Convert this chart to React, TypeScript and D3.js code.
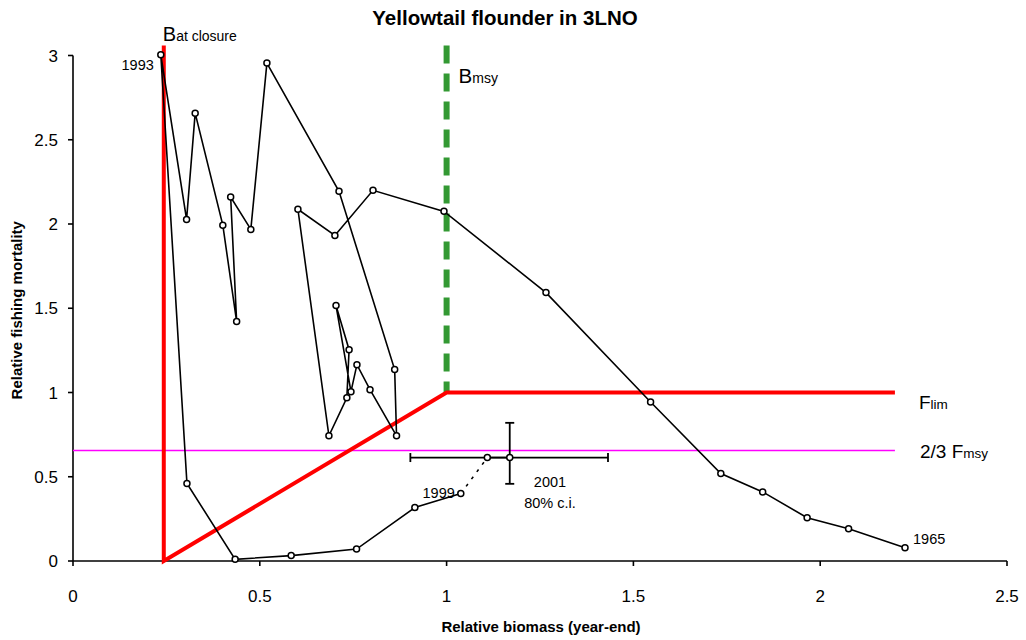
import React from "react";
import * as d3 from "d3";

// Stock trajectory, chronological 1965 -> 1999 (relative biomass, relative F)
const years: number[] = d3.range(1965, 2000);
const biomass: number[] = [
  2.227, 2.076, 1.965, 1.846, 1.734, 1.546, 1.266, 0.993, 0.803, 0.701,
  0.602, 0.685, 0.733, 0.739, 0.704, 0.744, 0.760, 0.795, 0.866, 0.861,
  0.712, 0.519, 0.476, 0.422, 0.438, 0.401, 0.327, 0.304, 0.235, 0.305,
  0.434, 0.584, 0.759, 0.915, 1.038,
];
const fishing: number[] = [
  0.079, 0.192, 0.257, 0.410, 0.519, 0.944, 1.593, 2.075, 2.200, 1.932,
  2.087, 0.743, 0.969, 1.254, 1.516, 1.005, 1.165, 1.017, 0.743, 1.136,
  2.194, 2.955, 1.968, 2.160, 1.421, 1.993, 2.658, 2.027, 3.004, 0.460,
  0.010, 0.032, 0.071, 0.317, 0.400,
];
// Projection 2000 -> 2001
const projB: number[] = [1.038, 1.109, 1.169];
const projF: number[] = [0.400, 0.614, 0.614];
// 2001 80% confidence interval
const ciB: number[] = [0.903, 1.432];
const ciF: number[] = [0.458, 0.820];

// Reference points
const bClosure = 0.243;
const bMsy = 1.0;
const fLim = 1.0;
const fTwoThirds = 0.656;
const refTop = 3.06;
const refRight = 2.2;

const xTicks: number[] = [0, 0.5, 1, 1.5, 2, 2.5];
const yTicks: number[] = [0, 0.5, 1, 1.5, 2, 2.5, 3];

const FONT = "'Liberation Sans', Arial, sans-serif";

export default function App() {
  const W = 1026;
  const H = 640;
  const x = d3.scaleLinear().domain([0, 2.5]).range([73, 1007]);
  const y = d3.scaleLinear().domain([0, 3]).range([561, 55.5]);

  const pts: [number, number][] = biomass.map((b, i) => [b, fishing[i]]);
  const line = d3
    .line<[number, number]>()
    .x((d) => x(d[0]))
    .y((d) => y(d[1]));

  const projPts: [number, number][] = projB.map((b, i) => [b, projF[i]]);
  const idx1993 = years.indexOf(1993);
  const idx1965 = years.indexOf(1965);
  const idx1999 = years.indexOf(1999);

  const cap = 4.5;

  return (
    <svg
      width={W}
      height={H}
      style={{ position: "absolute", left: 0, top: 0, background: "#fff" }}
      fontFamily={FONT}
    >
      <rect x={0} y={0} width={W} height={H} fill="#fff" />
      {/* Title */}
      <text x={505} y={25} textAnchor="middle" fontSize={20.5} fontWeight="bold">
        Yellowtail flounder in 3LNO
      </text>

      {/* Axes */}
      <line x1={x(0)} x2={x(0)} y1={y(3)} y2={y(0)} stroke="#000" strokeWidth={1.6} />
      <line x1={x(0)} x2={x(2.5)} y1={y(0)} y2={y(0)} stroke="#000" strokeWidth={1.6} />
      {yTicks.map((t) => (
        <g key={"yt" + t}>
          <line x1={x(0) - 5} x2={x(0)} y1={y(t)} y2={y(t)} stroke="#000" strokeWidth={1.6} />
          <text x={x(0) - 15} y={y(t) + 6} textAnchor="end" fontSize={17}>
            {t}
          </text>
        </g>
      ))}
      {xTicks.map((t) => (
        <g key={"xt" + t}>
          <line x1={x(t)} x2={x(t)} y1={y(0)} y2={y(0) + 5} stroke="#000" strokeWidth={1.6} />
          <text x={x(t)} y={602} textAnchor="middle" fontSize={17}>
            {t}
          </text>
        </g>
      ))}
      <text x={541} y={632} textAnchor="middle" fontSize={15} fontWeight="bold">
        Relative biomass (year-end)
      </text>
      <text
        transform={`translate(22,${y(1.5) + 2}) rotate(-90)`}
        textAnchor="middle"
        fontSize={15}
        fontWeight="bold"
      >
        Relative fishing mortality
      </text>

      {/* 2/3 Fmsy line */}
      <line
        x1={x(0)}
        x2={x(refRight)}
        y1={y(fTwoThirds)}
        y2={y(fTwoThirds)}
        stroke="#ff00ff"
        strokeWidth={1.6}
      />

      {/* Bmsy green dashed */}
      <line
        x1={x(bMsy)}
        x2={x(bMsy)}
        y1={y(refTop)}
        y2={y(fLim)}
        stroke="#339933"
        strokeWidth={6}
        strokeDasharray="18,10"
      />

      {/* Red precautionary framework */}
      <path
        d={`M${x(bClosure)},${y(refTop)} L${x(bClosure)},${y(0)} L${x(bMsy)},${y(fLim)} L${x(refRight)},${y(fLim)}`}
        fill="none"
        stroke="#ff0000"
        strokeWidth={4}
        strokeLinejoin="miter"
      />

      {/* Trajectory */}
      <path d={line(pts) || ""} fill="none" stroke="#000" strokeWidth={1.6} />
      <path
        d={line(projPts.slice(0, 2)) || ""}
        fill="none"
        stroke="#000"
        strokeWidth={1.6}
        strokeDasharray="3,6"
      />
      <path d={line(projPts.slice(1)) || ""} fill="none" stroke="#000" strokeWidth={1.6} />

      {/* Error bars for 2001 */}
      <g stroke="#000" strokeWidth={1.8}>
        <line x1={x(ciB[0])} x2={x(ciB[1])} y1={y(projF[2])} y2={y(projF[2])} />
        <line x1={x(ciB[0])} x2={x(ciB[0])} y1={y(projF[2]) - cap} y2={y(projF[2]) + cap} />
        <line x1={x(ciB[1])} x2={x(ciB[1])} y1={y(projF[2]) - cap} y2={y(projF[2]) + cap} />
        <line x1={x(projB[2])} x2={x(projB[2])} y1={y(ciF[0])} y2={y(ciF[1])} />
        <line x1={x(projB[2]) - cap} x2={x(projB[2]) + cap} y1={y(ciF[0])} y2={y(ciF[0])} />
        <line x1={x(projB[2]) - cap} x2={x(projB[2]) + cap} y1={y(ciF[1])} y2={y(ciF[1])} />
      </g>

      {/* Markers */}
      {pts.concat(projPts.slice(1)).map((d, i) => (
        <circle
          key={"m" + i}
          cx={x(d[0])}
          cy={y(d[1])}
          r={3}
          fill="#fff"
          stroke="#000"
          strokeWidth={1.5}
        />
      ))}

      {/* Point labels */}
      <text x={x(biomass[idx1993]) - 7} y={y(fishing[idx1993]) + 15} textAnchor="end" fontSize={14.5}>
        1993
      </text>
      <text x={x(biomass[idx1965]) + 8} y={y(fishing[idx1965]) - 4} fontSize={14.5}>
        1965
      </text>
      <text x={x(biomass[idx1999]) - 6} y={y(fishing[idx1999]) + 4} textAnchor="end" fontSize={14.5}>
        1999
      </text>
      <text x={550} y={487} textAnchor="middle" fontSize={14.5}>
        2001
      </text>
      <text x={550} y={507.5} textAnchor="middle" fontSize={14.5}>
        80% c.i.
      </text>

      {/* Reference labels */}
      <text x={x(bClosure) - 1} y={41}>
        <tspan fontSize={20}>B</tspan>
        <tspan fontSize={14}>at closure</tspan>
      </text>
      <text x={x(bMsy) + 12} y={83}>
        <tspan fontSize={20.5}>B</tspan>
        <tspan fontSize={14}>msy</tspan>
      </text>
      <text x={919} y={408.5}>
        <tspan fontSize={19}>F</tspan>
        <tspan fontSize={13.5}>lim</tspan>
      </text>
      <text x={920} y={457.5}>
        <tspan fontSize={19}>2/3 F</tspan>
        <tspan fontSize={13.5}>msy</tspan>
      </text>
    </svg>
  );
}
